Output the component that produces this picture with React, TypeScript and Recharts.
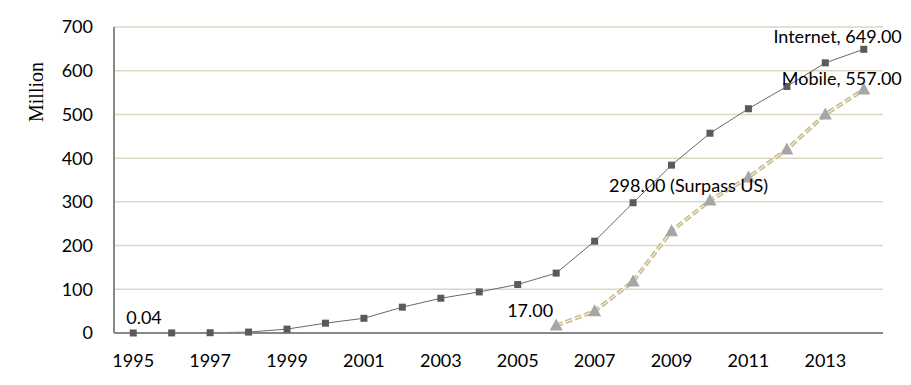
import { CartesianGrid, Line, LineChart, XAxis, YAxis } from "recharts";

const years = [
	1995, 1996, 1997, 1998, 1999, 2000, 2001, 2002, 2003, 2004,
	2005, 2006, 2007, 2008, 2009, 2010, 2011, 2012, 2013, 2014,
];
const internet = [
	0.04, 0.16, 0.62, 2.1, 8.9, 22.5, 33.7, 59.1, 79.5, 94,
	111, 137, 210, 298, 384, 457, 513, 564, 618, 649,
];
const mobile = [
	null, null, null, null, null, null, null, null, null, null,
	null, 17, 50, 118, 233, 303, 356, 420, 500, 557,
];
const yTicks = [0, 100, 200, 300, 400, 500, 600, 700];
const xLabelTicks = [1995, 1997, 1999, 2001, 2003, 2005, 2007, 2009, 2011, 2013];
const xTickMarks = years.map((y) => y - 0.5).concat([2014.5]);

const data = years.map((year, i) => ({ year, internet: internet[i], mobile: mobile[i] }));

const FONT = "Lato, 'Noto Sans', sans-serif";
const FS = 18;

const Square = (props: any) => {
	const { cx, cy } = props;
	if (cx == null || cy == null) return null;
	return <rect x={cx - 3.5} y={cy - 3.5} width={7} height={7} fill="#5a5a5a" />;
};

const Triangle = (props: any) => {
	const { cx, cy, payload } = props;
	if (cx == null || cy == null || payload?.mobile == null) return null;
	return <polygon points={`${cx},${cy - 7} ${cx + 6.5},${cy + 5} ${cx - 6.5},${cy + 5}`} fill="#a6a6a6" />;
};

const labelStyle = { fontFamily: FONT, fontSize: FS, fill: "#000" };

const internetLabel = (props: any) => {
	const { x, y, index } = props;
	if (index === 0)
		return (
			<text key="l0" x={x - 7} y={y - 9} style={labelStyle}>
				0.04
			</text>
		);
	if (index === 13)
		return (
			<text key="l13" x={x - 24} y={y - 11} style={labelStyle}>
				298.00 (Surpass US)
			</text>
		);
	if (index === 19)
		return (
			<text key="l19" x={x + 38} y={y - 6} textAnchor="end" style={labelStyle}>
				Internet, 649.00
			</text>
		);
	return null;
};

const mobileLabel = (props: any) => {
	const { x, y, index } = props;
	if (index === 11)
		return (
			<text key="m11" x={x - 3} y={y - 9} textAnchor="end" style={labelStyle}>
				17.00
			</text>
		);
	if (index === 19)
		return (
			<text key="m19" x={x + 38} y={y - 5} textAnchor="end" style={labelStyle}>
				Mobile, 557.00
			</text>
		);
	return null;
};

export default function App() {
	return (
		<div style={{ position: "absolute", left: 0, top: 0, background: "#fff" }}>
			<LineChart width={911} height={385} data={data} margin={{ top: 27, right: 28, bottom: 22, left: 0 }}>
				<CartesianGrid horizontal vertical={false} stroke="#ddd7c2" strokeWidth={1.5} />
				<XAxis
					dataKey="year"
					type="number"
					domain={[1994.5, 2014.5]}
					ticks={xLabelTicks}
					interval={0}
					height={30}
					tickLine={false}
					tickSize={0}
					tickMargin={21}
					axisLine={{ stroke: "#888", strokeWidth: 2 }}
					tick={{ fontFamily: FONT, fontSize: FS, fill: "#000" }}
				/>
				<XAxis
					xAxisId="marks"
					dataKey="year"
					type="number"
					domain={[1994.5, 2014.5]}
					ticks={xTickMarks}
					interval={0}
					height={0}
					mirror
					axisLine={false}
					tickSize={6}
					tickLine={{ stroke: "#888", strokeWidth: 1.5 }}
					tick={false}
				/>
				<YAxis
					domain={[0, 700]}
					ticks={yTicks}
					width={114}
					tickLine={false}
					tickSize={0}
					tickMargin={21}
					axisLine={{ stroke: "#888", strokeWidth: 2 }}
					tick={{ fontFamily: FONT, fontSize: FS, fill: "#000" }}
					label={{
						content: () => (
							<text
								x={43}
								y={92}
								transform="rotate(-90 43 92)"
								textAnchor="middle"
								style={{ fontFamily: "'Liberation Serif', serif", fontSize: 20, fill: "#000" }}>
								Million
							</text>
						),
					}}
				/>
				<Line
					dataKey="internet"
					stroke="#6a6a6a"
					strokeWidth={1}
					dot={<Square />}
					label={internetLabel}
					isAnimationActive={false}
				/>
				<Line
					dataKey="mobile"
					stroke="#c8bc8c"
					strokeWidth={4}
					strokeDasharray="7 3"
					dot={false}
					isAnimationActive={false}
				/>
				<Line
					dataKey="mobile"
					stroke="#ffffff"
					strokeWidth={1}
					strokeDasharray="7 3"
					dot={<Triangle />}
					label={mobileLabel}
					isAnimationActive={false}
				/>
			</LineChart>
		</div>
	);
}
